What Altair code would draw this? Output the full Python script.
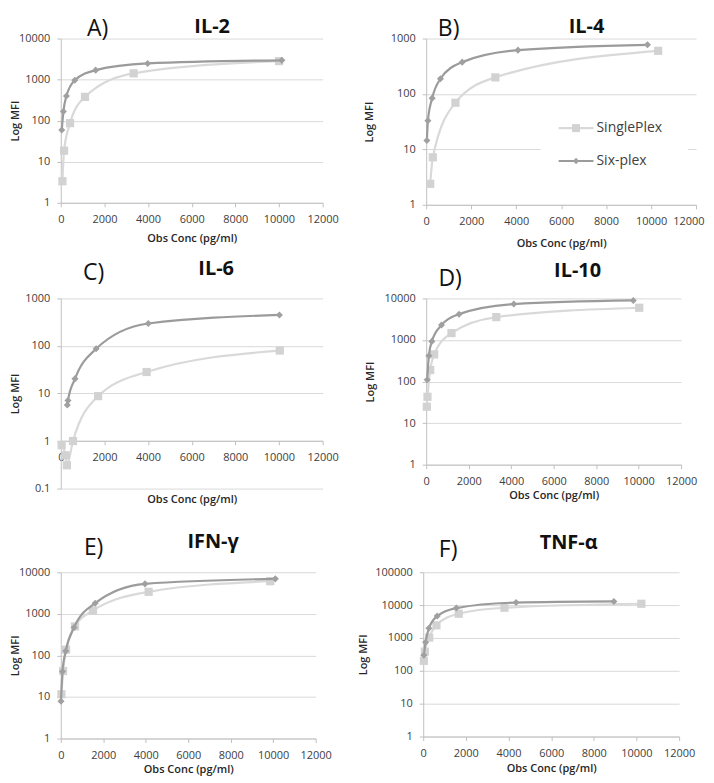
import altair as alt
import pandas as pd

# ---------------- data ----------------
IL2_six_x = [45, 120, 260, 640, 1600, 3980, 10130]
IL2_six_y = [59, 167, 400, 960, 1700, 2470, 2940]
IL2_single_x = [75, 150, 425, 1110, 3340, 10000]
IL2_single_y = [3.35, 18.6, 87, 380, 1420, 2820]

IL4_six_x = [30, 75, 265, 635, 1600, 4080, 9840]
IL4_six_y = [14.4, 33, 84, 188, 375, 617, 769]
IL4_single_x = [177, 295, 1300, 3075, 10315]
IL4_single_y = [2.39, 7.2, 69.5, 199, 600]

IL6_six_x = [300, 330, 650, 1620, 4010, 10020]
IL6_six_y = [5.7, 7.1, 20.3, 87, 297, 449]
IL6_single_x = [40, 220, 280, 560, 1710, 3935, 10035]
IL6_single_y = [0.82, 0.5, 0.31, 1.0, 8.8, 28.3, 80]

IL10_six_x = [47, 125, 265, 720, 1545, 4125, 9750]
IL10_six_y = [111, 417, 925, 2280, 4180, 7310, 8920]
IL10_single_x = [30, 60, 190, 375, 1190, 3300, 10030]
IL10_single_y = [24.8, 43, 189, 450, 1466, 3550, 5960]

IFN_six_x = [10, 80, 235, 625, 1620, 3965, 10100]
IFN_six_y = [7.9, 41, 127, 470, 1800, 5250, 6920]
IFN_single_x = [30, 110, 250, 670, 1515, 4135, 9860]
IFN_single_y = [11.6, 42, 137, 497, 1200, 3375, 6080]

TNF_six_x = [30, 110, 265, 655, 1555, 4355, 8940]
TNF_six_y = [298, 740, 1960, 4640, 8110, 11900, 12900]
TNF_single_x = [30, 80, 280, 620, 1665, 3810, 10230]
TNF_single_y = [201, 385, 1025, 2420, 5460, 8300, 10970]

X_TICKS = [0, 2000, 4000, 6000, 8000, 10000, 12000]
SERIES = ["SinglePlex", "Six-plex"]

FONT = "Open Sans"
SINGLE_LINE = "#d9d9d9"
SINGLE_PT = "#d2d2d2"
SIX_LINE = "#9b9b9b"
SIX_PT = "#a0a0a0"


def decades(lo, hi):
    out = []
    v = lo
    while v <= hi * 1.0001:
        out.append(v)
        v = v * 10
    return out


def panel(letter, name, sx, sy, mx, my, ydom, w, h,
          letter_pos, name_pos, ytitle_x, xtitle_y, xoffset=0, legend=False,
          edge_label=False):
    single = pd.DataFrame({"x": sx, "y": sy})
    six = pd.DataFrame({"x": mx, "y": my})

    xaxis_kw = dict(values=X_TICKS, format="d", grid=False,
                    labelOverlap=False, labelFlush=False,
                    title="Obs Conc (pg/ml)", titleY=xtitle_y,
                    titleBaseline="middle", offset=xoffset)
    if edge_label:
        xaxis_kw["labelAlign"] = {"condition": {"test": "datum.value == 12000",
                                                "value": "right"},
                                  "value": "center"}
        xaxis_kw["labelOffset"] = {"condition": {"test": "datum.value == 12000",
                                                 "value": 8},
                                   "value": 0}
    xenc = alt.X("x:Q",
                 scale=alt.Scale(domain=[0, 12000], nice=False, zero=False),
                 axis=alt.Axis(**xaxis_kw))
    yenc = alt.Y("y:Q",
                 scale=alt.Scale(type="log", domain=ydom, nice=False),
                 axis=alt.Axis(values=decades(ydom[0], ydom[1]), format="~g",
                               labelOverlap=False, labelFlush=False,
                               title="Log MFI", titleX=ytitle_x,
                               titleBaseline="middle"))

    layers = []
    if legend:
        box = pd.DataFrame({"t": [""]})
        layers.append(alt.Chart(box).mark_rect(color="white").encode(
            x=alt.value(115), x2=alt.value(263), y=alt.value(72), y2=alt.value(137)))

    layers += [
        alt.Chart(single).mark_line(color=SINGLE_LINE, strokeWidth=2.2,
                                    interpolate="monotone").encode(x=xenc, y=yenc),
        alt.Chart(single).mark_point(shape="square", filled=True, opacity=1,
                                     size=68, color=SINGLE_PT).encode(x=xenc, y=yenc),
        alt.Chart(six).mark_line(color=SIX_LINE, strokeWidth=2.2,
                                 interpolate="monotone").encode(x=xenc, y=yenc),
        alt.Chart(six).mark_point(shape="diamond", filled=True, opacity=1,
                                  size=50, color=SIX_PT).encode(x=xenc, y=yenc),
    ]

    lt = pd.DataFrame({"t": [letter]})
    nt = pd.DataFrame({"t": [name]})
    layers.append(alt.Chart(lt).mark_text(font=FONT, fontSize=23, color="#111111",
                                          align="center", baseline="middle").encode(
        x=alt.value(letter_pos[0]), y=alt.value(letter_pos[1]), text="t:N"))
    layers.append(alt.Chart(nt).mark_text(font=FONT, fontSize=20, fontWeight="bold",
                                          color="#111111", align="center",
                                          baseline="middle").encode(
        x=alt.value(name_pos[0]), y=alt.value(name_pos[1]), text="t:N"))

    if legend:
        for i, (lab, lc, pc, shp, sz) in enumerate([
                (SERIES[0], SINGLE_LINE, SINGLE_PT, "square", 64),
                (SERIES[1], SIX_LINE, SIX_PT, "diamond", 40)]):
            yy = 90 + i * 33
            d = pd.DataFrame({"t": [lab]})
            layers.append(alt.Chart(d).mark_rule(color=lc, strokeWidth=2.2).encode(
                x=alt.value(133), x2=alt.value(168), y=alt.value(yy)))
            layers.append(alt.Chart(d).mark_point(shape=shp, filled=True, opacity=1,
                                                  size=sz, color=pc).encode(
                x=alt.value(150.5), y=alt.value(yy)))
            layers.append(alt.Chart(d).mark_text(font=FONT, fontSize=14, color="#404040",
                                                 align="left", baseline="middle").encode(
                x=alt.value(171), y=alt.value(yy), text="t:N"))

    return alt.layer(*layers).properties(width=w, height=h)


A = panel("A)", "IL-2", IL2_single_x, IL2_single_y, IL2_six_x, IL2_six_y,
          [1, 10000], 263, 165, (37, -10), (152, -12), -45, 36)
B = panel("B)", "IL-4", IL4_single_x, IL4_single_y, IL4_six_x, IL4_six_y,
          [1, 1000], 271, 167, (22.5, -10), (161, -12), -57, 39, legend=True,
          edge_label=True)
C = panel("C)", "IL-6", IL6_single_x, IL6_single_y, IL6_six_x, IL6_six_y,
          [0.1, 1000], 263, 191, (33, -25), (156, -30), -45, 59, xoffset=-48)
D = panel("D)", "IL-10", IL10_single_x, IL10_single_y, IL10_six_x, IL10_six_y,
          [1, 10000], 256, 167, (24, -19), (152, -27), -56, 31)
E = panel("E)", "IFN-γ", IFN_single_x, IFN_single_y, IFN_six_x, IFN_six_y,
          [1, 10000], 256, 167, (33, -24), (153, -30), -45, 31)
F = panel("F)", "TNF-α", TNF_single_x, TNF_single_y, TNF_six_x, TNF_six_y,
          [1, 100000], 257, 165, (25, -22), (146, -29), -60, 32)

row1 = alt.hconcat(A, B, spacing=104, bounds="flush")
row2 = alt.hconcat(C, D, spacing=104, bounds="flush")
row3 = alt.hconcat(E, F, spacing=108, bounds="flush")
top = alt.vconcat(row1, row2, spacing=10)
chart = alt.vconcat(top, row3, spacing=28).properties(
    padding={"left": 2, "top": 7, "right": 2, "bottom": 0}
).configure_view(stroke=None).configure_axis(
    labelFont=FONT, labelFontSize=11, labelColor="#404040",
    titleFont=FONT, titleFontSize=11, titleFontWeight=600, titleColor="#262626",
    gridColor="#d9d9d9", gridWidth=1, domainColor="#bfbfbf", domainWidth=1,
    tickColor="#bfbfbf", tickSize=4, labelPadding=7,
).configure_axisY(ticks=True)

chart.save("out.html", embed_options={"renderer": "svg", "actions": False})
